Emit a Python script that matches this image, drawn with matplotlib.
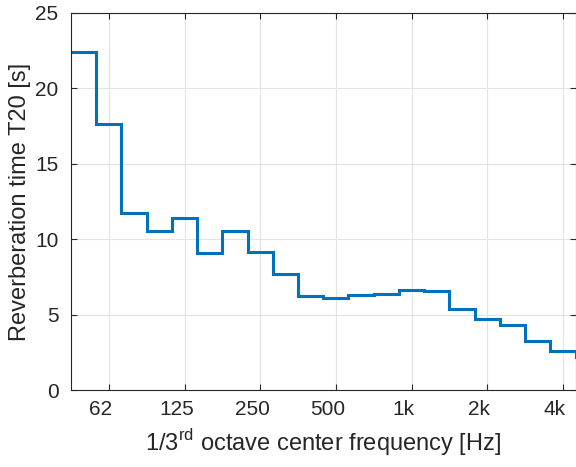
import numpy as np
import matplotlib
matplotlib.use('Agg')
import matplotlib.transforms as mtransforms
from matplotlib import pyplot as plt

plt.rcParams['font.family'] = ['Liberation Sans', 'DejaVu Sans']
plt.rcParams['mathtext.fontset'] = 'custom'
plt.rcParams['mathtext.rm'] = 'Liberation Sans'

# 1/3 octave bands 50 Hz .. 4 kHz (plus 5 kHz, cut off by the x limit)
band_centers = [50, 63, 80, 100, 125, 160, 200, 250, 315, 400, 500, 630, 800,
                1000, 1250, 1600, 2000, 2500, 3150, 4000, 5000]
t20 = [22.39, 17.64, 11.72, 10.52, 11.38, 9.08, 10.54, 9.12, 7.69, 6.21, 6.08,
       6.32, 6.37, 6.63, 6.56, 5.35, 4.68, 4.31, 3.23, 2.61, 2.2]
tick_freqs = [62.5, 125, 250, 500, 1000, 2000, 4000]
tick_labels = ['62', '125', '250', '500', '1k', '2k', '4k']

# exact band edges from nominal index
idx = np.arange(len(band_centers)) - 13  # 1 kHz at index 13
centers_exact = 1000 * 2 ** (idx / 3)
edges = np.append(centers_exact * 2 ** (-1 / 6), centers_exact[-1] * 2 ** (1 / 6))

fig = plt.figure(figsize=(5.76, 4.67), dpi=100)
ax = fig.add_axes([71 / 576, 77 / 467, 504.5 / 576, 377 / 467])

ax.stairs(t20, edges, color='#0072BD', linewidth=2.2, baseline=None)

ax.set_xscale('log')
ax.set_xlim(edges[0], edges[-2])
ax.set_ylim(0, 25)
ax.set_yticks([0, 5, 10, 15, 20, 25])
ax.set_xticks(tick_freqs)
ax.set_xticklabels(tick_labels)
ax.xaxis.set_minor_locator(matplotlib.ticker.NullLocator())

ax.grid(True, color='#e3e3e3', linewidth=0.8)
ax.set_axisbelow(True)
for s in ax.spines.values():
    s.set_color('#262626')
    s.set_linewidth(0.8)
ax.tick_params(direction='in', length=4, width=0.8, colors='#262626',
               labelsize=15, top=True, right=True)
ax.tick_params(axis='x', pad=7)
ax.tick_params(axis='y', pad=9)

offset = mtransforms.ScaledTranslation(-8 / 100, 0, fig.dpi_scale_trans)
for lab in ax.get_xticklabels():
    lab.set_transform(lab.get_transform() + offset)

ax.set_xlabel(r'1/3$^{\rm rd}$ octave center frequency [Hz]', fontsize=17, color='#262626', labelpad=6)
ax.set_ylabel('Reverberation time T20 [s]', fontsize=17, color='#262626', labelpad=3)

fig.savefig('out.png', dpi=100)
